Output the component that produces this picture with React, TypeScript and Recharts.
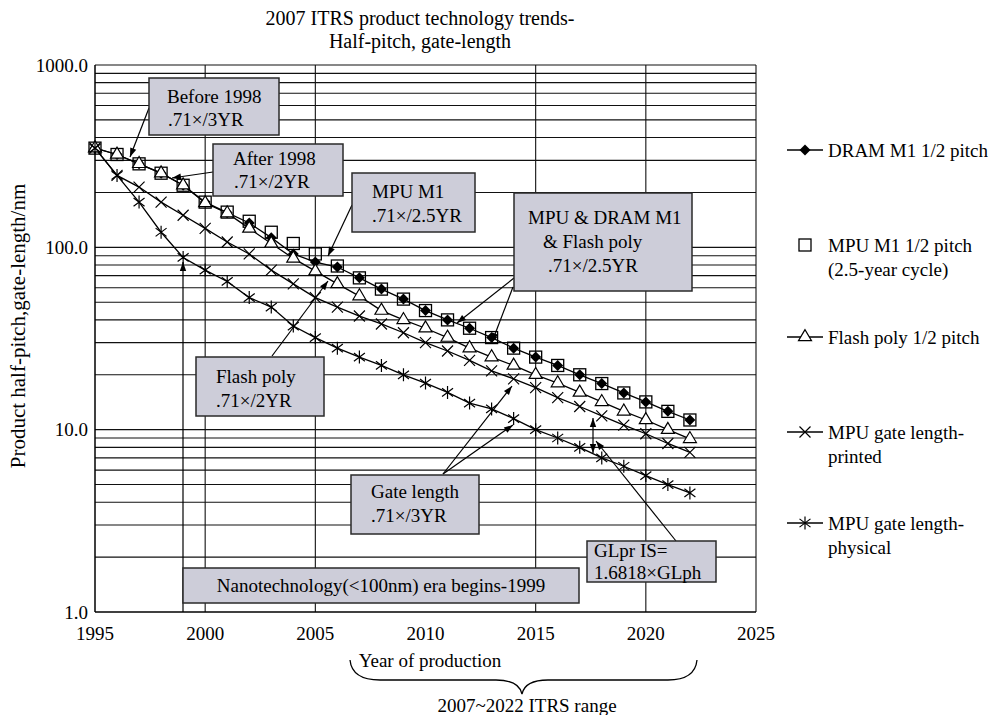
import { LineChart, Line, XAxis, YAxis, ReferenceLine } from "recharts";

// ITRS 2007 product technology trends, values in nm
const years = [
  1995, 1996, 1997, 1998, 1999, 2000, 2001, 2002, 2003, 2004, 2005, 2006, 2007, 2008,
  2009, 2010, 2011, 2012, 2013, 2014, 2015, 2016, 2017, 2018, 2019, 2020, 2021, 2022,
];
const dramHalfPitch = [
  350, 323, 287, 255, 219, 177, 155, 136, 113, 92, 83, 78, 68, 59,
  52, 45, 40, 36, 32, 28, 25, 22.5, 20, 17.9, 15.9, 14.2, 12.6, 11.3,
];
const mpuHalfPitch = [
  350, 323, 287, 255, 219, 177, 156, 139, 121, 105, 92, 79, 68, 59,
  52, 45, 40, 36, 32, 28, 25, 22.5, 20, 17.9, 15.9, 14.2, 12.6, 11.3,
];
const flashHalfPitch = [
  350, 323, 287, 255, 219, 175, 154, 127, 105, 87, 74, 63, 54, 45,
  40, 36, 32, 28, 25, 22.5, 20, 18, 16, 14.2, 12.6, 11.3, 10, 8.9,
];
const gatePrinted = [
  350, 248, 214, 177, 150, 127, 107, 92, 75, 63, 53, 47, 42, 38,
  34, 30, 27, 24, 21, 19, 17, 15, 13.4, 11.9, 10.6, 9.5, 8.4, 7.5,
];
const gatePhysical = [
  350, 248, 177, 121, 88, 75, 65, 53, 47, 37, 32, 28, 25, 22.5,
  20, 18, 16, 14, 13, 11.5, 10, 9, 8, 7, 6.3, 5.6, 5.0, 4.5,
];

const xTicks = [1995, 2000, 2005, 2010, 2015, 2020, 2025];
const yTicks = [1, 10, 100, 1000];
const vGrid = [2000, 2005, 2015, 2020, 2025];
const hGrid = [
  2, 3, 4, 5, 6, 7, 8, 9, 10, 20, 30, 40, 50, 60, 70, 80, 90, 100,
  200, 300, 400, 500, 600, 700, 800, 900, 1000,
];

const rows = years.map((year, i) => ({
  year,
  dram: dramHalfPitch[i],
  mpu: mpuHalfPitch[i],
  flash: flashHalfPitch[i],
  printed: gatePrinted[i],
  physical: gatePhysical[i],
}));

const FONT = '"Liberation Serif", "Times New Roman", serif';
const BOX_FILL = "#cdcdd9";

// ---- markers ----
function Diamond({ cx, cy }: any) {
  const r = 5.5;
  return <path d={`M${cx},${cy - r}L${cx + r},${cy}L${cx},${cy + r}L${cx - r},${cy}Z`} fill="#000" />;
}
function Square({ cx, cy }: any) {
  const s = 6;
  return <rect x={cx - s} y={cy - s} width={2 * s} height={2 * s} fill="none" stroke="#000" strokeWidth={1.3} />;
}
function Triangle({ cx, cy }: any) {
  const h = 11, w = 13;
  return (
    <polygon
      points={`${cx},${cy - (2 * h) / 3} ${cx - w / 2},${cy + h / 3} ${cx + w / 2},${cy + h / 3}`}
      fill="#fff"
      stroke="#000"
      strokeWidth={1.2}
    />
  );
}
function Cross({ cx, cy }: any) {
  const r = 5.5;
  return (
    <path d={`M${cx - r},${cy - r}L${cx + r},${cy + r}M${cx - r},${cy + r}L${cx + r},${cy - r}`} stroke="#000" strokeWidth={1.2} />
  );
}
function Star({ cx, cy }: any) {
  const r = 6.5, d = 5.5;
  return (
    <path
      d={`M${cx},${cy - r}L${cx},${cy + r}M${cx - d},${cy - d * 0.75}L${cx + d},${cy + d * 0.75}M${cx - d},${cy + d * 0.75}L${cx + d},${cy - d * 0.75}`}
      stroke="#000"
      strokeWidth={1.2}
    />
  );
}

// ---- annotation helpers ----
function head(tx: number, ty: number, fx: number, fy: number) {
  const a = Math.atan2(ty - fy, tx - fx);
  const L = 9, w = 3.2;
  const bx = tx - L * Math.cos(a), by = ty - L * Math.sin(a);
  return `${tx},${ty} ${bx + w * Math.sin(a)},${by - w * Math.cos(a)} ${bx - w * Math.sin(a)},${by + w * Math.cos(a)}`;
}
function Arrow({ x1, y1, x2, y2, both }: any) {
  return (
    <g>
      <line x1={x1} y1={y1} x2={x2} y2={y2} stroke="#000" strokeWidth={1.2} />
      <polygon points={head(x2, y2, x1, y1)} fill="#000" />
      {both && <polygon points={head(x1, y1, x2, y2)} fill="#000" />}
    </g>
  );
}

const boxes = [
  { x: 149, y: 78, w: 130, h: 57, lines: [["Before 1998", 167, 103], [".71×/3YR", 168, 126]] },
  { x: 213, y: 144, w: 130, h: 52, lines: [["After 1998", 233, 165], [".71×/2YR", 234, 188]] },
  { x: 352, y: 173, w: 123, h: 59, lines: [["MPU M1", 372, 198], [".71×/2.5YR", 372, 222]] },
  {
    x: 514, y: 193, w: 178, h: 98,
    lines: [["MPU & DRAM M1", 528, 224], ["& Flash poly", 543, 248], [".71×/2.5YR", 548, 272]],
  },
  { x: 196, y: 357, w: 128, h: 59, lines: [["Flash poly", 216, 383], [".71×/2YR", 216, 407]] },
  { x: 351, y: 475, w: 128, h: 59, lines: [["Gate length", 371, 498], [".71×/3YR", 371, 522]] },
  { x: 587, y: 541, w: 129, h: 41, lines: [["GLpr IS=", 594, 557], ["1.6818×GLph", 594, 579]] },
  { x: 183, y: 568, w: 396, h: 35, lines: [["Nanotechnology(<100nm) era begins-1999", 381, 592, "middle"]] },
];

const arrows = [
  { x1: 183, y1: 612, x2: 183, y2: 262 },
  { x1: 149, y1: 108, x2: 130, y2: 157 },
  { x1: 213, y1: 172, x2: 172, y2: 178 },
  { x1: 352, y1: 205, x2: 328, y2: 256 },
  { x1: 514, y1: 278, x2: 457, y2: 323 },
  { x1: 513, y1: 287, x2: 492, y2: 342 },
  { x1: 272, y1: 356, x2: 328, y2: 281 },
  { x1: 443, y1: 474, x2: 512, y2: 386 },
  { x1: 443, y1: 474, x2: 513, y2: 425 },
  { x1: 676, y1: 541, x2: 596, y2: 441 },
  { x1: 593, y1: 418, x2: 593, y2: 453, both: true },
];

const legend = [
  { y: 150, line: true, Mark: Diamond, text: ["DRAM M1 1/2 pitch"] },
  { y: 245, line: false, Mark: Square, text: ["MPU M1 1/2 pitch", "(2.5-year cycle)"] },
  { y: 337, line: true, Mark: Triangle, text: ["Flash poly 1/2 pitch"] },
  { y: 432, line: true, Mark: Cross, text: ["MPU gate length-", "printed"] },
  { y: 523, line: true, Mark: Star, text: ["MPU gate length-", "physical"] },
];

export default function App() {
  const tickStyle = { fill: "#000", fontSize: 19, fontFamily: FONT };
  return (
    <div style={{ position: "absolute", left: 0, top: 0, width: 998, height: 715, background: "#fff", fontFamily: FONT }}>
      <LineChart width={998} height={715} data={rows} margin={{ top: 65, right: 242, bottom: 63, left: 10 }}>
        <XAxis
          dataKey="year"
          type="number"
          domain={[1995, 2025]}
          ticks={xTicks}
          interval={0}
          height={40}
          tick={tickStyle}
          tickLine={false}
          tickSize={7}
          tickMargin={8}
          axisLine={{ stroke: "#000", strokeWidth: 1.5 }}
        />
        <YAxis
          type="number"
          scale="log"
          domain={[1, 1000]}
          allowDataOverflow
          ticks={yTicks}
          interval={0}
          width={85}
          tick={tickStyle}
          tickLine={false}
          tickSize={5}
          tickMargin={2}
          tickFormatter={(v: number) => v.toFixed(1)}
          axisLine={{ stroke: "#000", strokeWidth: 1.5 }}
        />
        {hGrid.map((v) => (
          <ReferenceLine key={`h${v}`} y={v} stroke="#111" strokeWidth={1.1} />
        ))}
        {vGrid.map((v) => (
          <ReferenceLine key={`v${v}`} x={v} stroke="#111" strokeWidth={1.1} />
        ))}
        <Line
          dataKey="dram"
          stroke="#000"
          strokeWidth={1.3}
          isAnimationActive={false}
          dot={(p: any) => <Diamond key={`dr${p.index}`} cx={p.cx} cy={p.cy} />}
        />
        <Line
          dataKey="mpu"
          stroke="none"
          isAnimationActive={false}
          dot={(p: any) => <Square key={`mp${p.index}`} cx={p.cx} cy={p.cy} />}
        />
        <Line
          dataKey="flash"
          stroke="#000"
          strokeWidth={1.3}
          isAnimationActive={false}
          dot={(p: any) => <Triangle key={`fl${p.index}`} cx={p.cx} cy={p.cy} />}
        />
        <Line
          dataKey="printed"
          stroke="#000"
          strokeWidth={1.3}
          isAnimationActive={false}
          dot={(p: any) => <Cross key={`pr${p.index}`} cx={p.cx} cy={p.cy} />}
        />
        <Line
          dataKey="physical"
          stroke="#000"
          strokeWidth={1.3}
          isAnimationActive={false}
          dot={(p: any) => <Star key={`ph${p.index}`} cx={p.cx} cy={p.cy} />}
        />
      </LineChart>

      {/* annotations, titles and legend drawn over the plot */}
      <svg width={998} height={715} style={{ position: "absolute", left: 0, top: 0, pointerEvents: "none" }} fontFamily={FONT}>
        <text x={420} y={25} fontSize={20} textAnchor="middle">2007 ITRS product technology trends-</text>
        <text x={420} y={48} fontSize={20} textAnchor="middle">Half-pitch, gate-length</text>
        <text transform="translate(25,326) rotate(-90)" fontSize={21} textAnchor="middle">
          Product half-pitch,gate-length/nm
        </text>

        {arrows.map((a, i) => (
          <Arrow key={i} {...a} />
        ))}
        {boxes.map((b, i) => (
          <g key={i}>
            <rect x={b.x} y={b.y} width={b.w} height={b.h} fill={BOX_FILL} stroke="#2a2a2a" strokeWidth={1.5} />
            {b.lines.map((l: any, j) => (
              <text key={j} x={l[1]} y={l[2]} fontSize={19} textAnchor={l[3] || "start"}>
                {l[0]}
              </text>
            ))}
          </g>
        ))}

        <text x={430} y={667} fontSize={19} textAnchor="middle">Year of production</text>
        <path
          d="M350,660 Q352,680 380,680 L496,680 Q519,680 522,694 Q525,680 548,680 L668,680 Q695,680 697,660"
          fill="none"
          stroke="#000"
          strokeWidth={1.3}
        />
        <text x={527} y={712} fontSize={19} textAnchor="middle">2007~2022 ITRS range</text>

        {legend.map((e, i) => (
          <g key={i}>
            {e.line && <line x1={787} y1={e.y} x2={823} y2={e.y} stroke="#000" strokeWidth={1.3} />}
            <e.Mark cx={805} cy={e.y} />
            {e.text.map((t, j) => (
              <text key={j} x={828} y={e.y + 7 + j * 24} fontSize={19}>
                {t}
              </text>
            ))}
          </g>
        ))}
      </svg>
    </div>
  );
}
